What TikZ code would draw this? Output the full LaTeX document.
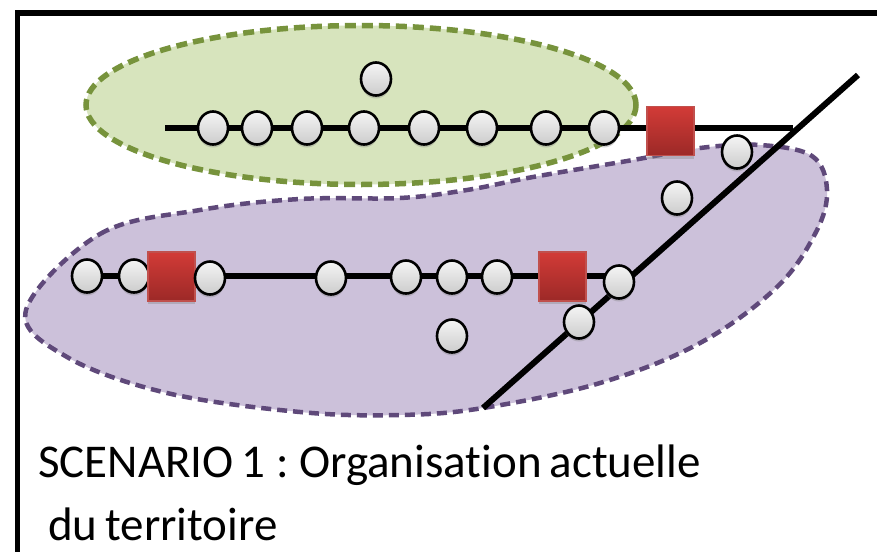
\documentclass[tikz,border=0pt]{standalone}
\usepackage{fontspec}
\setmainfont[Ligatures=NoCommon]{Carlito}
\usetikzlibrary{shapes.geometric,shadows}
\definecolor{greenfill}{HTML}{D7E4BD}
\definecolor{greenline}{HTML}{77933C}
\definecolor{purplefill}{HTML}{CCC1DA}
\definecolor{purpleline}{HTML}{5F497A}
\definecolor{redtop}{HTML}{D23B37}
\definecolor{redbot}{HTML}{9C2927}
\definecolor{redline}{HTML}{C0504D}
\tikzset{
  village/.style={ellipse, minimum width=30pt, minimum height=33pt, inner sep=0pt,
    draw=black, line width=2.6pt, top color=gray!8, bottom color=gray!40,
    drop shadow={shadow xshift=0pt, shadow yshift=-3pt, opacity=0.35}},
  gare/.style={rectangle, minimum width=47pt, minimum height=49pt, inner sep=0pt,
    draw=redline, line width=1.5pt, top color=redtop, bottom color=redbot,
    drop shadow={shadow xshift=0pt, shadow yshift=-3pt, opacity=0.35}},
  rail/.style={draw=black, line width=6pt},
  caption/.style={anchor=base west, inner sep=0pt, font=\fontsize{47}{56}\selectfont}
}
\begin{document}
\frenchspacing
\begin{tikzpicture}[x=1pt,y=-1pt]
\useasboundingbox (0,0) rectangle (877,551);
\fill[white] (0,0) rectangle (877,551);
% frame
\draw[line width=5.5pt] (17.5,570) -- (17.5,13) -- (900,13);
% green zone
\fill[greenfill] (361,105) ellipse [x radius=275, y radius=79.5];
\draw[greenline, line width=5.5pt, dash pattern=on 11pt off 6pt] (361,105) ellipse [x radius=275, y radius=79.5];
% purple zone
\path[fill=purplefill, draw=purpleline, line width=4.5pt, dash pattern=on 10pt off 6pt]
  plot[smooth cycle, tension=0.6] coordinates {
  (26,310) (100,234) (200,210) (300,199) (400,198) (467,190) (533,177) (633,160)
  (700,148) (760,145) (812,156) (827,190) (816,232) (777,287) (700,343) (600,383)
  (483,408) (400,415) (300,412) (167,393) (67,357)};
% lines
\coordinate (t0) at (165,128);
\coordinate (t1) at (793,128);
\coordinate (d0) at (858,75);
\coordinate (d1) at (483,408);
\coordinate (l0) at (87,276);
\coordinate (l1) at (612,276);
\draw[rail] (t0) -- (t1);
\draw[rail] (l0) -- (l1);
\draw[rail] (d0) -- (d1);
% upper villages
\node[village] (a1) at (213,128) {};
\node[village] (a2) at (257,128) {};
\node[village] (a3) at (307,128) {};
\node[village] (a4) at (364,128) {};
\node[village] (a5) at (424,128) {};
\node[village] (a6) at (482,128) {};
\node[village] (a7) at (546,128) {};
\node[village] (a8) at (604,128) {};
\node[village] (a9) at (376,79) {};
\node[gare] (g1) at (670.5,131) {};
% right villages
\node[village] (r1) at (737,152) {};
\node[village] (r2) at (677,198) {};
% lower villages
\node[village] (b1) at (87,276) {};
\node[village] (b2) at (134,276) {};
\node[gare] (g2) at (171.5,276.5) {};
\node[village] (b3) at (210,278) {};
\node[village] (b4) at (331,278) {};
\node[village] (b5) at (406,277) {};
\node[village] (b6) at (452,277) {};
\node[village] (b7) at (497,277) {};
\node[gare] (g3) at (562.5,276.5) {};
\node[village] (b8) at (619,282) {};
\node[village] (b9) at (579,322) {};
\node[village] (b10) at (452,336) {};
% caption
\node[caption] (cap1) at (38,477) {SCENARIO\,1 : Organisation\,actuelle};
\node[caption] (cap2) at (48,540) {du\,territoire};
\end{tikzpicture}
\end{document}
